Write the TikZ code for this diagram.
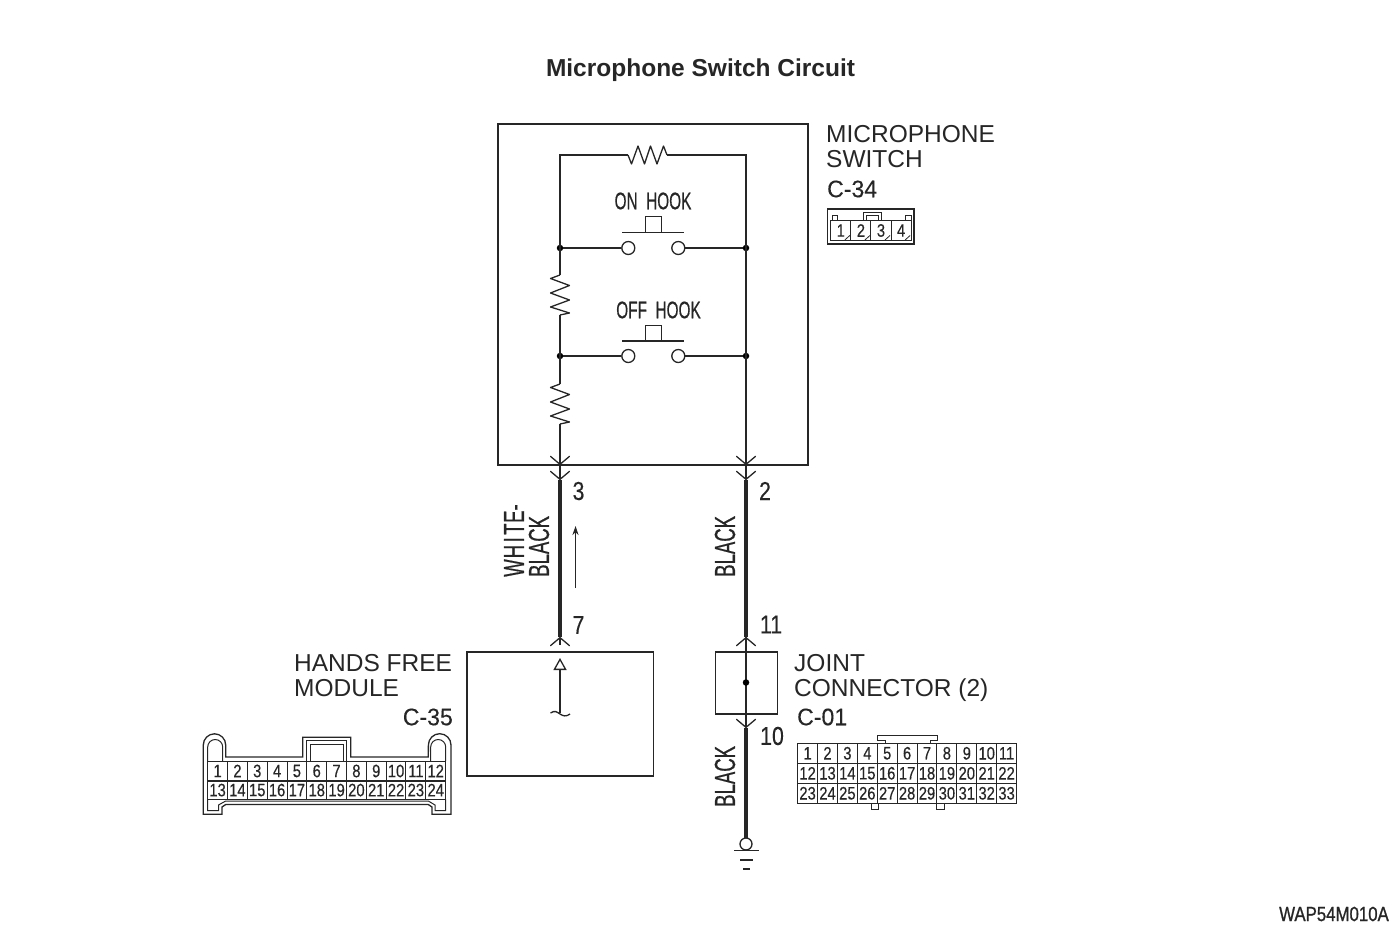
\documentclass[tikz,border=0pt]{standalone}
\usepackage{fontspec}
\setmainfont{Liberation Sans}
\newfontfamily\narrowfont[FakeStretch=0.82,FakeBold=0.3]{Liberation Sans}
\newfontfamily\figfont[FakeStretch=0.82,FakeBold=0.9]{Liberation Sans}
\newfontfamily\codefont[FakeStretch=0.96,FakeBold=0.2]{Liberation Sans}
\newfontfamily\wirefont[FakeStretch=0.64,FakeBold=0.5]{Liberation Sans}
\usetikzlibrary{arrows.meta}
\usetikzlibrary{positioning}
\definecolor{ink}{HTML}{262626}
\tikzset{
  thin wire/.style={draw=ink,line width=1.3pt},
  heavy wire/.style={draw=ink,line width=4pt},
  chevron down/.style={-{Straight Barb[length=8pt,width=19pt,line width=1.3pt,round]}},
  blockbox/.style={draw=ink,line width=1.3pt,fill=none},
  junction/.style={circle,fill=black,inner sep=0pt,minimum size=6.5pt},
  contact/.style={circle,draw=ink,fill=white,line width=1.3pt,inner sep=0pt,minimum size=13pt},
  label/.style={inner sep=0pt,text=ink,font=\fontsize{24.5}{24.5}\selectfont},
  codelabel/.style={inner sep=0pt,text=ink,font=\codefont\fontsize{24}{24}\selectfont},
  pinnum/.style={inner sep=0pt,text=ink,font=\narrowfont\fontsize{26}{26}\selectfont},
  hooklabel/.style={inner sep=0pt,text=ink,font=\wirefont\fontsize{24}{24}\selectfont},
  colorlabel/.style={inner sep=0pt,text=ink,rotate=90,anchor=west,font=\wirefont\fontsize{29}{29}\selectfont},
  pincell/.style={draw=ink,line width=1pt,inner sep=0pt,text=ink,font=\narrowfont\fontsize{18}{18}\selectfont},
}
\begin{document}
\begin{tikzpicture}[x=1pt,y=-1pt]
  \useasboundingbox (0,0) rectangle (1400,931);

  % title
  \node[anchor=base,font=\bfseries\fontsize{24.5}{24.5}\selectfont,text=ink,inner sep=0pt] (title) at (700.5,77) {Microphone Switch Circuit};
  \node[anchor=east,inner sep=0pt,text=ink,font=\figfont\fontsize{20.5}{20.5}\selectfont] (figcode) at (1389,914) {WAP54M010A};

  % microphone switch
  \draw[blockbox] (498,124) rectangle (808,465);
  \coordinate (lefttop) at (560,155);
  \coordinate (righttop) at (746,155);
  \coordinate (leftout) at (560,465);
  \coordinate (rightout) at (746,465);
  \coordinate (topresin) at (628,155);
  \coordinate (topresout) at (667,155);
  \coordinate (lowresin) at (560,275);
  \coordinate (lowresout) at (560,315);
  \coordinate (botresin) at (560,384);
  \coordinate (botresout) at (560,424);

  \node[junction] (onleft) at (560,248) {};
  \node[junction] (onright) at (746,248) {};
  \node[junction] (offleft) at (560,356) {};
  \node[junction] (offright) at (746,356) {};
  \node[contact] (ona) at (628.3,248) {};
  \node[contact] (onb) at (678.3,248) {};
  \node[contact] (offa) at (628.3,356) {};
  \node[contact] (offb) at (678.3,356) {};

  \draw[thin wire] (topresin) -- (lefttop) -- (lowresin);
  \draw[thin wire] (topresout) -- (righttop) -- (rightout);
  \draw[thin wire] (lowresout) -- (botresin);
  \draw[thin wire] (botresout) -- (leftout);
  \draw[thin wire] (onleft) -- (ona);
  \draw[thin wire] (onb) -- (onright);
  \draw[thin wire] (offleft) -- (offa);
  \draw[thin wire] (offb) -- (offright);

  % resistors
  \draw[thin wire,line join=round] (topresin) -- ++(3.5,9) -- ++(6.5,-18) -- ++(6.5,18) -- ++(6,-18) -- ++(6.5,18) -- ++(6.5,-18) -- (topresout);
  \draw[thin wire,line join=round] (lowresin) -- ++(-9.5,3.5) -- ++(19,7) -- ++(-19,7.5) -- ++(19,7) -- ++(-19,7) -- ++(19,6) -- (lowresout);
  \draw[thin wire,line join=round] (botresin) -- ++(-9.5,3.5) -- ++(19,7) -- ++(-19,7.5) -- ++(19,7) -- ++(-19,7) -- ++(19,6) -- (botresout);

  % push buttons
  \node[hooklabel] (onlabel) at (653,201) {ON\ \ HOOK};
  \draw[thin wire] (622,232.7) -- (684,232.7);
  \draw[thin wire] (645.3,232.7) -- (645.3,216.7) -- (661.3,216.7) -- (661.3,232.7);
  \node[hooklabel] (offlabel) at (658.5,310) {OFF\ \ HOOK};
  \draw[thin wire] (622,341) -- (684,341);
  \draw[thin wire] (645.3,341) -- (645.3,325.7) -- (661.3,325.7) -- (661.3,341);

  % wires between the blocks
  \coordinate (leftfem) at (560,480);
  \coordinate (rightfem) at (746,480);
  \coordinate (hfmpin) at (560,637);
  \coordinate (hfmstub) at (560,645);
  \coordinate (jointpin) at (746,637);
  \coordinate (jointout) at (746,728);
  \coordinate (earth) at (746,838);

  \draw[thin wire,chevron down] (560,440) -- (leftout);
  \draw[thin wire,chevron down] (746,440) -- (rightout);
  \draw[thin wire,chevron down] (leftout) -- (leftfem);
  \draw[thin wire,chevron down] (rightout) -- (rightfem);
  \draw[heavy wire] (leftfem) -- (hfmpin);
  \draw[heavy wire] (rightfem) -- (jointpin);
  \draw[thin wire,chevron down] (hfmstub) -- (hfmpin);
  \draw[thin wire,chevron down] (746,660) -- (jointpin);
  \draw[thin wire,chevron down] (jointpin) -- (jointout);
  \draw[heavy wire] (jointout) -- (earth);

  \node[pinnum] (pinthree) at (578.5,491) {3};
  \node[pinnum] (pintwo) at (765,491) {2};
  \node[pinnum] (pinseven) at (578.5,625) {7};
  \node[pinnum] (pineleven) at (771,624.5) {11};
  \node[pinnum] (pinten) at (772,736) {10};

  \node[colorlabel] (whitelabel) at (514,577) {W\kern1pt H\kern2.5pt I\kern2.5pt T\kern.5pt E-};
  \node[colorlabel] (blacklabel) at (539,577) {BLACK};
  \node[colorlabel] (rightblack) at (725,577) {BLACK};
  \node[colorlabel] (lowblack) at (725,807) {BLACK};

  % current arrow
  \coordinate (flowfrom) at (575.5,588);
  \coordinate (flowto) at (575.5,526);
  \draw[draw=ink,line width=1.1pt,-{Stealth[length=9pt,width=6pt]}] (flowfrom) -- (flowto);

  % hands free module
  \draw[blockbox] (467,652) rectangle (653.5,776);
  \coordinate (hfmtip) at (560,658);
  \coordinate (hfmtail) at (560,713);
  \draw[thin wire,-{Triangle[open,length=12pt,width=13pt,fill=white]}] (hfmtail) -- (hfmtip);
  \draw[thin wire] (550.5,713) .. controls (555,710) and (557,712) .. (560,714) .. controls (563,716) and (566,717) .. (570,714);
  \node[label,anchor=base west] (hfmlabel) at (294,671.5) {HANDS FREE};
  \node[label,anchor=base west] (modlabel) at (294,696) {MODULE};
  \node[codelabel,anchor=east] (hfmcode) at (453,717) {C-35};

  % joint connector
  \draw[blockbox] (715.5,652) rectangle (777.5,714);
  \node[junction] (jointdot) at (746,682.5) {};
  \node[label,anchor=base west] (jointlabel) at (794,671.5) {JOINT};
  \node[label,anchor=base west] (conlabel) at (794,696) {CONNECTOR (2)};
  \node[codelabel,anchor=west] (jointcode) at (797,717) {C-01};

  % switch labels
  \node[label,anchor=base west] (miclabel) at (826,142.5) {MICROPHONE};
  \node[label,anchor=base west] (swlabel) at (826,167.5) {SWITCH};
  \node[codelabel,anchor=west] (miccode) at (827,189) {C-34};

  % earth
  \node[contact,minimum size=12pt] (earthring) at (746,844) {};
  \draw[thin wire] (734,850.3) -- (758.5,850.3);
  \draw[thin wire] (740,860) -- (753,860);
  \draw[thin wire] (743,869) -- (749.5,869);

  % connector c-34
  \draw[blockbox] (827.5,209) rectangle (914,244);
  \foreach \n in {1,...,4}{
    \node[pincell,minimum width=20.1pt,minimum height=19.5pt] (micpin\n) at ({820.7+20.1*\n},230.5) {\n};
    \draw[draw=ink,line width=.8pt] ({824.7+20.1*\n},240) -- ({829.7+20.1*\n},235.5);
  }
  \draw[blockbox,line width=1pt] (832,220.7) |- (837,215.3) -- (837,220.7);
  \draw[blockbox,line width=1pt] (905,220.7) |- (911,215.3) -- (911,220.7);
  \draw[blockbox,line width=1pt] (863,220.7) -- (863,212) -- (881,212) -- (881,220.7);
  \draw[blockbox,line width=1pt] (866,220.7) -- (866,215) -- (878,215) -- (878,220.7);

  % connector c-35
  \foreach \n in {1,...,24}{
    \pgfmathtruncatemacro{\col}{mod(\n-1,12)}
    \pgfmathsetmacro{\row}{\n>12 ? 790.1 : 771}
    \pgfmathsetmacro{\high}{\n>12 ? 18.3 : 20}
    \node[pincell,minimum width=19.83pt,minimum height=\high pt] (hfmpin\n) at ({217.6+19.83*\col},\row) {\n};
  }
  \draw[blockbox] (225.7,804.5) -- (428.3,804.5) -- (432,807) -- (432,814.3) -- (451,814.3) -- (451,745) arc[start angle=0,end angle=180,radius=11.3pt] -- (428.3,757) -- (350.7,757) -- (350.7,737.3) -- (302.7,737.3) -- (302.7,757) -- (225.7,757) -- (225.7,745) arc[start angle=0,end angle=180,radius=11.2pt] -- (203.3,814.3) -- (222,814.3) -- (222,807) -- cycle;
  \draw[blockbox,line width=1pt] (207.7,799.4) -- (207.7,810.5) -- (218.5,810.5) -- (218.5,805) -- (225.7,801) -- (428.3,801) -- (435,805) -- (435,810.5) -- (445.7,810.5) -- (445.7,799.4);
  \draw[blockbox,line width=1pt] (207.7,761) -- (207.7,747) arc[start angle=180,end angle=0,radius=7.5pt] -- (222.7,761);
  \draw[blockbox,line width=1pt] (430.7,761) -- (430.7,747) arc[start angle=180,end angle=0,radius=7.5pt] -- (445.7,761);
  \draw[blockbox,line width=1pt] (306.7,761) -- (306.7,740.7) -- (346.7,740.7) -- (346.7,761);
  \draw[blockbox,line width=1pt] (310.7,761) -- (310.7,744.5) -- (343.3,744.5) -- (343.3,761);

  % connector c-01
  \foreach \n in {1,...,33}{
    \pgfmathtruncatemacro{\col}{mod(\n-1,11)}
    \pgfmathtruncatemacro{\line}{(\n-1)/11}
    \node[pincell,minimum width=19.9pt,minimum height=20pt] (jointpin\n) at ({807.6+19.9*\col},{753.3+20*\line}) {\n};
  }
  \draw[blockbox,line width=1pt] (885,743.3) -- (885,740) -- (877.7,740) -- (877.7,735.7) -- (937.3,735.7) -- (937.3,740) -- (930,740) -- (930,743.3);
  \draw[blockbox,line width=1pt] (871,803.3) -- (871,809.3) -- (878.3,809.3) -- (878.3,803.3);
  \draw[blockbox,line width=1pt] (936.7,803.3) -- (936.7,809.3) -- (944,809.3) -- (944,803.3);
\end{tikzpicture}
\end{document}
